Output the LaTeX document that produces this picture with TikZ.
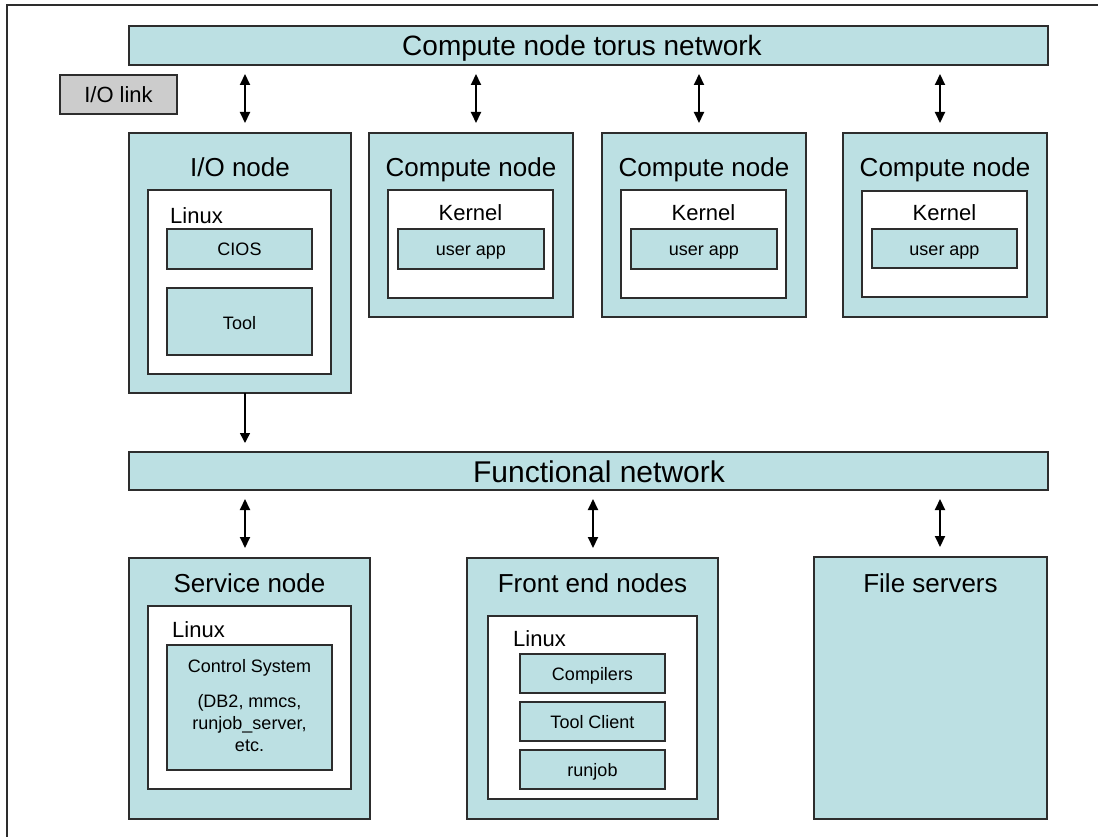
\documentclass[tikz,border=0pt]{standalone}
\usepackage{fontspec}
\setmainfont{Liberation Sans}
\usetikzlibrary{arrows.meta}
\definecolor{boxfill}{RGB}{188,224,227}
\definecolor{linkfill}{RGB}{204,204,204}
\definecolor{edge}{RGB}{45,45,45}
\newcommand\MyBox[6]{\node[#6, minimum width={(#4-#2)*1pt}, minimum height={(#5-#3)*1pt}] (#1) at ({(#2+#4)/2},{(#3+#5)/2}) {};}
\tikzset{
  bluebox/.style={draw=edge, fill=boxfill, line width=1.3pt, inner sep=0pt, outer sep=0pt, rectangle},
  whitebox/.style={draw=edge, fill=white, line width=1.3pt, inner sep=0pt, outer sep=0pt, rectangle},
  greybox/.style={draw=edge, fill=linkfill, line width=1.3pt, inner sep=0pt, outer sep=0pt, rectangle},
  big/.style={anchor=base, inner sep=0pt, font=\fontsize{26}{30}\selectfont},
  bar/.style={anchor=base, inner sep=0pt, font=\fontsize{28}{32}\selectfont},
  mid/.style={anchor=base, inner sep=0pt, font=\fontsize{22}{26}\selectfont},
  midl/.style={anchor=base west, inner sep=0pt, font=\fontsize{22}{26}\selectfont},
  small/.style={anchor=base, inner sep=0pt, font=\fontsize{18}{21}\selectfont},
  dbl/.style={line width=2pt, {Triangle[length=11pt,width=10pt]}-{Triangle[length=11pt,width=10pt]}, shorten <=9pt, shorten >=10pt},
  sgl/.style={line width=1.5pt, -{Triangle[length=10pt,width=10pt]}, shorten >=9pt},
}
\begin{document}
\begin{tikzpicture}[x=1pt,y=-1pt]
\useasboundingbox (0,0) rectangle (1098,837);
% frame
\coordinate (ftl) at (7,5);
\coordinate (ftr) at (1098,5);
\coordinate (fbl) at (7,837);
\draw[edge, line width=1.5pt] (fbl) -- (ftl) -- (ftr);

% bars
\MyBox{torus}{129}{26}{1048}{65}{bluebox}
\node[bar] (torustxt) at (582,56) {Compute node torus network};
\MyBox{func}{129}{452}{1048}{490}{bluebox}
\node[bar, font=\fontsize{30}{34}\selectfont] (functxt) at (599,482) {Functional network};

% I/O link
\MyBox{iolink}{60}{75}{177}{114}{greybox}
\node[mid] (iolinktxt) at (118.5,103) {I/O link};

% I/O node
\MyBox{ionode}{129}{133}{351}{393}{bluebox}
\node[big] (ionodetxt) at (240,177) {I/O node};
\MyBox{iowhite}{148}{190}{331}{374}{whitebox}
\node[midl] (iolinux) at (170,224) {Linux};
\MyBox{cios}{167}{229}{312}{269}{bluebox}
\node[small] (ciostxt) at (239.5,256) {CIOS};
\MyBox{tool}{167}{288}{312}{355}{bluebox}
\node[small] (tooltxt) at (239.5,329) {Tool};

% Compute nodes
\MyBox{cn1}{369}{133}{573}{317}{bluebox}
\node[big] (cn1txt) at (471,177) {Compute node};
\MyBox{cn1w}{388}{190}{553}{298}{whitebox}
\node[mid] (cn1k) at (470.5,221) {Kernel};
\MyBox{cn1u}{398}{229}{544}{269}{bluebox}
\node[small] (cn1ut) at (471,255) {user app};

\MyBox{cn2}{602}{133}{806}{317}{bluebox}
\node[big] (cn2txt) at (704,177) {Compute node};
\MyBox{cn2w}{621}{190}{786}{298}{whitebox}
\node[mid] (cn2k) at (703.5,221) {Kernel};
\MyBox{cn2u}{631}{229}{777}{269}{bluebox}
\node[small] (cn2ut) at (704,255) {user app};

\MyBox{cn3}{843}{133}{1047}{317}{bluebox}
\node[big] (cn3txt) at (945,177) {Compute node};
\MyBox{cn3w}{862}{191}{1027}{297}{whitebox}
\node[mid] (cn3k) at (944.5,221) {Kernel};
\MyBox{cn3u}{872}{229}{1017}{268}{bluebox}
\node[small] (cn3ut) at (944.5,255) {user app};

% Service node
\MyBox{svc}{129}{558}{370}{819}{bluebox}
\node[big] (svctxt) at (249.5,592) {Service node};
\MyBox{svcw}{148}{606}{351}{789}{whitebox}
\node[midl] (svclinux) at (172,637) {Linux};
\MyBox{ctrl}{167}{645}{332}{770}{bluebox}
\node[small] (ctrl1) at (249.5,672) {Control System};
\node[small] (ctrl2) at (249.5,707) {(DB2, mmcs,};
\node[small] (ctrl3) at (249.5,729) {runjob\_server,};
\node[small] (ctrl4) at (249.5,751) {etc.};

% Front end nodes
\MyBox{fe}{467}{558}{718}{819}{bluebox}
\node[big] (fetxt) at (592.5,592) {Front end nodes};
\MyBox{few}{488}{616}{697}{799}{whitebox}
\node[midl] (felinux) at (513,646) {Linux};
\MyBox{comp}{520}{654}{665}{693}{bluebox}
\node[small] (comptxt) at (592.5,680) {Compilers};
\MyBox{tc}{520}{702}{665}{741}{bluebox}
\node[small] (tctxt) at (592.5,728) {Tool Client};
\MyBox{rj}{520}{750}{665}{789}{bluebox}
\node[small] (rjtxt) at (592.5,776) {runjob};

% File servers
\MyBox{fs}{814}{557}{1047}{819}{bluebox}
\node[big] (fstxt) at (930.5,592) {File servers};

% arrow x positions
\coordinate (a1) at (245,0);
\coordinate (a2) at (476,0);
\coordinate (a3) at (699,0);
\coordinate (a4) at (940,0);
\coordinate (b2) at (593,0);

\draw[dbl] (a1 |- torus.south) -- (a1 |- ionode.north);
\draw[dbl] (a2 |- torus.south) -- (a2 |- cn1.north);
\draw[dbl] (a3 |- torus.south) -- (a3 |- cn2.north);
\draw[dbl] (a4 |- torus.south) -- (a4 |- cn3.north);

\draw[sgl] (a1 |- ionode.south) -- (a1 |- func.north);

\draw[dbl] (a1 |- func.south) -- (a1 |- svc.north);
\draw[dbl] (b2 |- func.south) -- (b2 |- fe.north);
\draw[dbl] (a4 |- func.south) -- (a4 |- fs.north);
\end{tikzpicture}
\end{document}
